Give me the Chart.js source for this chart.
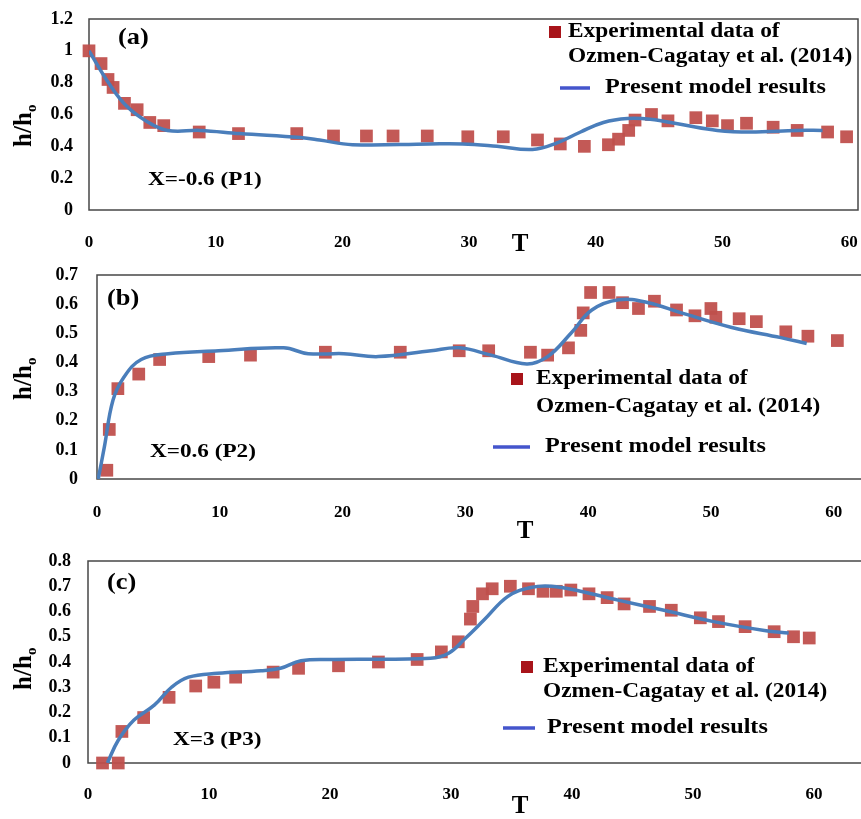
<!DOCTYPE html>
<html>
<head>
<meta charset="utf-8">
<script src="https://cdn.jsdelivr.net/npm/chart.js@4/dist/chart.umd.min.js"></script>
<style>
html, body { margin: 0; padding: 0; background: #fff; overflow: hidden; width: 861px; height: 819px; position: relative; }
.panel { position: absolute; left: 0; }
</style>
</head>
<body>
<canvas id="chartA" class="panel" style="top:0px" width="870" height="255"></canvas>
<canvas id="chartB" class="panel" style="top:262px" width="912" height="283"></canvas>
<canvas id="chartC" class="panel" style="top:548px" width="912" height="271"></canvas>
<script>
// tick labels
var xTicks = [0, 10, 20, 30, 40, 50, 60];
var yTicksA = [0, 0.2, 0.4, 0.6, 0.8, 1, 1.2];
var yTicksB = [0, 0.1, 0.2, 0.3, 0.4, 0.5, 0.6, 0.7];
var yTicksC = [0, 0.1, 0.2, 0.3, 0.4, 0.5, 0.6, 0.7, 0.8];

// (a) X=-0.6 (P1)
var expTA = [0, 0.95, 1.5, 1.9, 2.8, 3.8, 4.8, 5.9, 8.7, 11.8, 16.4, 19.3, 21.9, 24.0, 26.7, 29.9, 32.7, 35.4, 37.2, 39.1, 41.0, 41.8, 42.6, 43.1, 44.4, 45.7, 47.9, 49.2, 50.4, 51.9, 54.0, 55.9, 58.3, 59.8];
var expHA = [1.0, 0.92, 0.82, 0.77, 0.67, 0.63, 0.55, 0.53, 0.49, 0.48, 0.48, 0.465, 0.465, 0.465, 0.465, 0.46, 0.46, 0.44, 0.415, 0.40, 0.41, 0.445, 0.50, 0.565, 0.60, 0.56, 0.58, 0.56, 0.53, 0.545, 0.52, 0.50, 0.49, 0.46];
var modelTA = [0, 1.66, 3.0, 4.6, 6.2, 8.8, 11.9, 16.7, 18.2, 20.8, 26.9, 29.5, 32.2, 35.0, 36.9, 38.8, 40.6, 42.5, 44.3, 46.9, 49.6, 52.2, 55.9, 57.9];
var modelHA = [1.0, 0.785, 0.65, 0.555, 0.50, 0.50, 0.48, 0.455, 0.44, 0.41, 0.415, 0.415, 0.40, 0.38, 0.42, 0.49, 0.55, 0.575, 0.57, 0.535, 0.50, 0.49, 0.50, 0.50];

// (b) X=0.6 (P2)
var expTB = [0.8, 1.0, 1.7, 3.4, 5.1, 9.1, 12.5, 18.6, 24.7, 29.5, 31.9, 35.3, 36.7, 38.4, 39.4, 39.6, 40.2, 41.7, 42.8, 44.1, 45.4, 47.2, 48.7, 50.0, 50.4, 52.3, 53.7, 56.1, 57.9, 60.3];
var expHB = [0.03, 0.17, 0.31, 0.36, 0.41, 0.42, 0.425, 0.435, 0.435, 0.44, 0.44, 0.435, 0.425, 0.45, 0.51, 0.57, 0.64, 0.64, 0.605, 0.585, 0.61, 0.58, 0.56, 0.585, 0.555, 0.55, 0.54, 0.505, 0.49, 0.475];
var modelTB = [0.1, 0.6, 1.3, 2.2, 3.6, 5.8, 9.9, 15.2, 17.2, 20.1, 22.9, 27.2, 29.5, 32.1, 35.0, 36.7, 38.6, 40.3, 42.5, 44.9, 47.6, 51.7, 55.7, 57.8];
var modelHB = [0.0, 0.11, 0.27, 0.35, 0.41, 0.43, 0.44, 0.45, 0.43, 0.43, 0.42, 0.44, 0.45, 0.425, 0.395, 0.42, 0.50, 0.58, 0.615, 0.605, 0.57, 0.52, 0.485, 0.465];

// (c) X=3 (P3)
var expTC = [1.2, 2.5, 2.8, 4.6, 6.7, 8.9, 10.4, 12.2, 15.3, 17.4, 20.7, 24.0, 27.2, 29.2, 30.6, 31.6, 31.8, 32.6, 33.4, 34.9, 36.4, 37.6, 38.7, 39.9, 41.4, 42.9, 44.3, 46.4, 48.2, 50.6, 52.1, 54.3, 56.7, 58.3, 59.6];
var expHC = [0.0, 0.0, 0.125, 0.18, 0.26, 0.305, 0.32, 0.34, 0.36, 0.375, 0.385, 0.40, 0.41, 0.44, 0.48, 0.57, 0.62, 0.67, 0.69, 0.70, 0.69, 0.68, 0.68, 0.685, 0.67, 0.655, 0.63, 0.62, 0.605, 0.575, 0.56, 0.54, 0.52, 0.50, 0.495];
var modelTC = [1.6, 2.5, 3.8, 5.5, 6.9, 8.3, 10.7, 14.3, 15.9, 17.6, 20.3, 28.3, 29.8, 31.1, 32.7, 34.7, 36.6, 38.3, 40.7, 43.8, 47.6, 51.7, 55.9, 57.9];
var modelHC = [0.0, 0.09, 0.17, 0.23, 0.30, 0.34, 0.355, 0.365, 0.375, 0.405, 0.41, 0.415, 0.435, 0.49, 0.565, 0.66, 0.695, 0.70, 0.68, 0.645, 0.605, 0.56, 0.525, 0.515];

var SERIF = '"Liberation Serif", "Times New Roman", serif';

function toPoints(xs, ys) {
    return xs.map(function(x, i) { return { x: x, y: ys[i] }; });
}

function drawText(ctx, text, x, y, size, sx) {
    ctx.save();
    ctx.translate(x, y);
    ctx.scale(sx || 1, 1);
    ctx.font = 'bold ' + size + 'px ' + SERIF;
    ctx.textAlign = 'left';
    ctx.textBaseline = 'middle';
    ctx.fillStyle = '#000';
    ctx.fillText(text, 0, 0);
    ctx.restore();
}

// frame, labels, legend and axis titles
var decorPlugin = {
    id: 'decor',
    beforeDatasetsDraw: function(chart) {
        var ctx = chart.ctx, a = chart.chartArea;
        ctx.save();
        ctx.strokeStyle = '#474747';
        ctx.lineWidth = 1.5;
        ctx.strokeRect(a.left, a.top, a.right - a.left, a.bottom - a.top);
        ctx.restore();
    },
    afterDraw: function(chart, args, o) {
        var ctx = chart.ctx;
        drawText(ctx, o.panel[0], o.panel[1], o.panel[2], 24, 1.1);
        drawText(ctx, o.station[0], o.station[1], o.station[2], 19, 1.22);

        // legend
        var lg = o.legend;
        ctx.fillStyle = '#a8141a';
        ctx.fillRect(lg.sq[0] - 6, lg.sq[1] - 6, 12, 12);
        drawText(ctx, 'Experimental data of', lg.text[0], lg.text[1], 20.5, 1.14);
        drawText(ctx, 'Ozmen-Cagatay et al. (2014)', lg.text[0], lg.text[2], 20.5, 1.14);
        ctx.strokeStyle = '#4455cc';
        ctx.lineWidth = 3.5;
        ctx.beginPath();
        ctx.moveTo(lg.line[0], lg.line[2]);
        ctx.lineTo(lg.line[1], lg.line[2]);
        ctx.stroke();
        drawText(ctx, 'Present model results', lg.line[3], lg.line[2], 20.5, 1.18);

        // y title h/h0, rotated
        ctx.save();
        ctx.translate(o.ytitle[0], o.ytitle[1]);
        ctx.rotate(-Math.PI / 2);
        ctx.fillStyle = '#000';
        ctx.textBaseline = 'middle';
        ctx.font = 'bold 25px ' + SERIF;
        var w = ctx.measureText('h/h').width;
        var w2 = 9;
        ctx.fillText('h/h', -(w + w2) / 2, 0);
        ctx.font = 'bold 15px ' + SERIF;
        ctx.fillText('o', -(w + w2) / 2 + w, 7);
        ctx.restore();

        // x title
        ctx.save();
        ctx.font = 'bold 25px ' + SERIF;
        ctx.fillStyle = '#000';
        ctx.textAlign = 'center';
        ctx.textBaseline = 'middle';
        ctx.fillText('T', o.xtitle[0], o.xtitle[1]);
        ctx.restore();
    }
};

function makeChart(id, p) {
    var ctx = document.getElementById(id).getContext('2d');
    return new Chart(ctx, {
        type: 'scatter',
        data: {
            datasets: [{
                label: 'Present model results',
                data: toPoints(p.modelT, p.modelH),
                showLine: true,
                borderColor: '#4a7ebb',
                borderWidth: 3.5,
                tension: 0.4,
                pointRadius: 0,
                fill: false
            }, {
                label: 'Experimental data of Ozmen-Cagatay et al. (2014)',
                data: toPoints(p.expT, p.expH),
                pointStyle: 'rect',
                pointRadius: 9,
                backgroundColor: 'rgba(192, 80, 77, 0.95)',
                borderWidth: 0,
                clip: false
            }]
        },
        options: {
            responsive: false,
            animation: false,
            layout: { padding: { left: 0, top: p.padTop, right: 12, bottom: 0 } },
            plugins: {
                legend: { display: false },
                tooltip: { enabled: false },
                decor: p.decor
            },
            scales: {
                x: {
                    type: 'linear',
                    min: 0,
                    max: p.xMax,
                    grid: { display: false },
                    border: { display: false },
                    afterBuildTicks: function(s) { s.ticks = xTicks.map(function(v) { return { value: v }; }); },
                    afterFit: function(s) {
                        s.height = p.xHeight;
                        s.paddingLeft = 0; s.paddingRight = 0;
                    },
                    ticks: {
                        padding: p.xPad, color: '#000',
                        font: { family: SERIF, size: 17, weight: 'bold' },
                        callback: function(v) { return String(v); }
                    }
                },
                y: {
                    min: 0,
                    max: p.yTicks[p.yTicks.length - 1],
                    grid: { display: false },
                    border: { display: false },
                    afterBuildTicks: function(s) { s.ticks = p.yTicks.map(function(v) { return { value: v }; }); },
                    afterFit: function(s) {
                        s.width = p.yWidth;
                        s.paddingTop = 0; s.paddingBottom = 0;
                    },
                    ticks: {
                        padding: p.yPad, color: '#000',
                        font: { family: SERIF, size: 18, weight: 'bold' },
                        callback: function(v) { return String(v); }
                    }
                }
            }
        },
        plugins: [decorPlugin]
    });
}

makeChart('chartA', {
    expT: expTA, expH: expHA, modelT: modelTA, modelH: modelHA, yTicks: yTicksA,
    xMax: 60.7, padTop: 19, xHeight: 45, yWidth: 89, xPad: 14, yPad: 8,
    decor: {
        panel: ['(a)', 118, 38], station: ['X=-0.6 (P1)', 148, 180],
        legend: { sq: [555, 32], text: [568, 32, 57], line: [560, 590, 88, 605] },
        ytitle: [25, 125], xtitle: [520, 245]
    }
});

makeChart('chartB', {
    expT: expTB, expH: expHB, modelT: modelTB, modelH: modelHB, yTicks: yTicksB,
    xMax: 65.4, padTop: 13, xHeight: 66, yWidth: 97, xPad: 15, yPad: 11,
    decor: {
        panel: ['(b)', 107, 37], station: ['X=0.6 (P2)', 150, 190],
        legend: { sq: [517, 117], text: [536, 117, 145], line: [493, 530, 185, 545] },
        ytitle: [25, 116], xtitle: [525, 270]
    }
});

makeChart('chartC', {
    expT: expTC, expH: expHC, modelT: modelTC, modelH: modelHC, yTicks: yTicksC,
    xMax: 67.1, padTop: 13, xHeight: 56, yWidth: 88, xPad: 13, yPad: 9,
    decor: {
        panel: ['(c)', 107, 35], station: ['X=3 (P3)', 173, 192],
        legend: { sq: [527, 119], text: [543, 119, 144], line: [503, 535, 180, 547] },
        ytitle: [25, 120], xtitle: [520, 259]
    }
});
</script>
</body>
</html>
